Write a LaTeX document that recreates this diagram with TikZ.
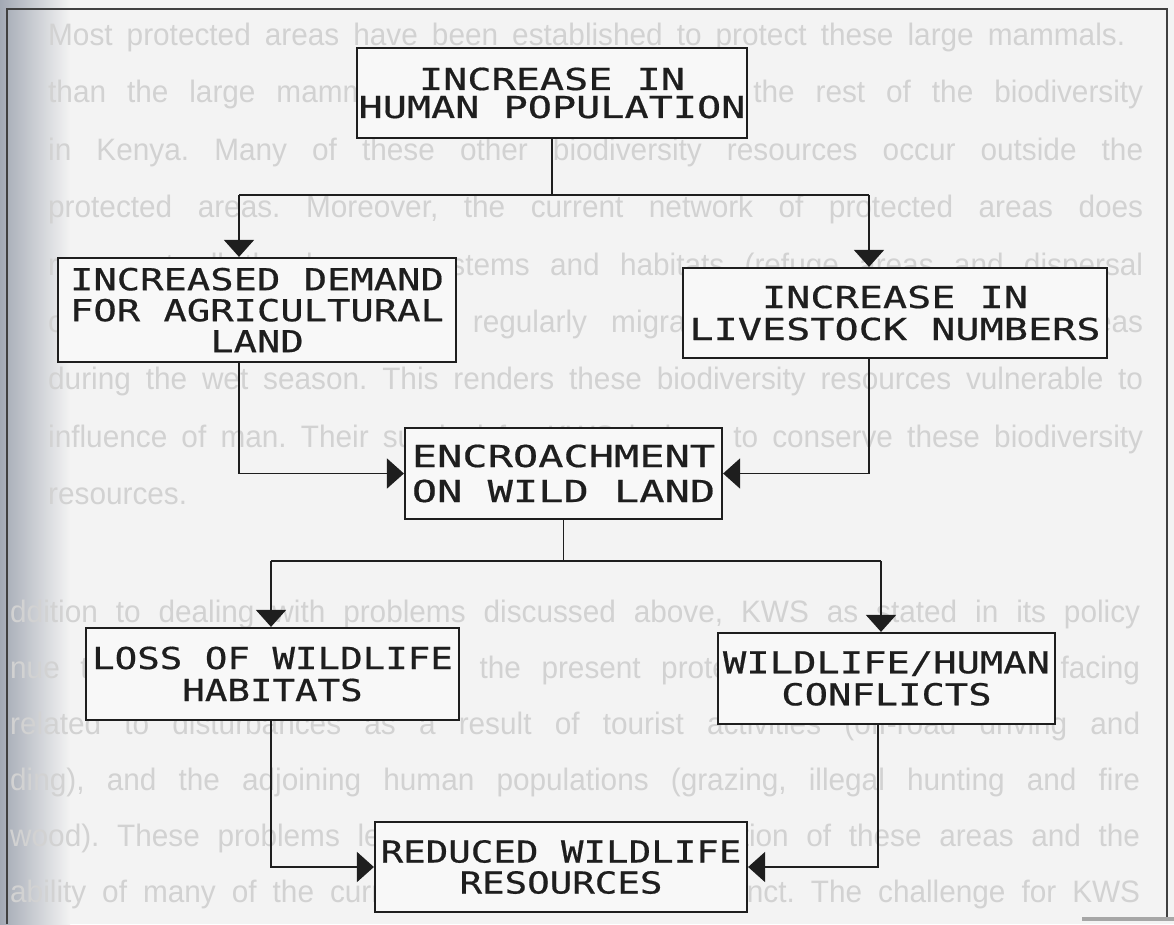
\documentclass[tikz,border=0pt]{standalone}
\usepackage{fontspec}
\usetikzlibrary{arrows.meta,calc}

% plotter-style lettering for the boxes, in a few widths
\newfontfamily\plotwide[FakeStretch=1.33,FakeBold=0.6]{DejaVu Sans Mono}
\newfontfamily\plotxwide[FakeStretch=1.39,FakeBold=0.6]{DejaVu Sans Mono}
\newfontfamily\plotmid[FakeStretch=1.285,FakeBold=0.6]{DejaVu Sans Mono}
\newfontfamily\plotnarrow[FakeStretch=1.24,FakeBold=0.6]{DejaVu Sans Mono}
% faint page text behind the chart
\newfontfamily\bodyfont[FakeStretch=0.96]{Liberation Sans}

\definecolor{paper}{HTML}{F3F3F3}
\definecolor{boxfill}{HTML}{F8F8F8}
\definecolor{ghost}{HTML}{D2D2D2}
\definecolor{ink}{HTML}{1E1E1E}
\definecolor{edge}{HTML}{A3A9B4}

\tikzset{
  flowbox/.style={draw=ink, line width=2.2pt, fill=boxfill, inner sep=0pt,
    align=center, text=ink},
  conn/.style={draw=ink, line width=1.8pt},
  arr/.style={-{Triangle[width=30pt,length=17pt]}},
  ghosttext/.style={anchor=base west, inner sep=0pt, text=ghost,
    font=\bodyfont\fontsize{31}{31}\selectfont},
  frame/.style={draw=ink!85, line width=2.4pt},
}

\newcommand\parline[1]{\makebox[1095pt][s]{#1}}
\newcommand\parlinewide[1]{\makebox[1130pt][s]{#1}}

\frenchspacing
\begin{document}
\begin{tikzpicture}[x=1pt,y=-1pt]
  \useasboundingbox (0,0) rectangle (1174,924);
  \fill[paper] (0,0) rectangle (1174,924);
  \shade[left color=edge, right color=paper] (0,0) rectangle (70,924);

  % page text showing through
  \node[ghosttext] (g1) at (48,45)  {\makebox[1077pt][s]{Most protected areas have been established to protect these large mammals.}};
  \node[ghosttext] (g2) at (48,102) {\parline{than the large mammals, little is known about the rest of the biodiversity}};
  \node[ghosttext] (g3) at (48,160) {\parline{in Kenya. Many of these other biodiversity resources occur outside the}};
  \node[ghosttext] (g4) at (48,217) {\parline{protected areas. Moreover, the current network of protected areas does}};
  \node[ghosttext] (g5) at (48,275) {\parline{represent all the key ecosystems and habitats (refuge areas and dispersal}};
  \node[ghosttext] (g6) at (48,332) {\parline{of all fauna in Kenya are regularly migrate outside the protected areas}};
  \node[ghosttext] (g7) at (48,389) {\parline{during the wet season. This renders these biodiversity resources vulnerable to}};
  \node[ghosttext] (g8) at (48,447) {\parline{influence of man. Their survival for KWS is how to conserve these biodiversity}};
  \node[ghosttext] (g9) at (48,504) {resources.};
  \node[ghosttext] (g10) at (10,622) {\parlinewide{ddition to dealing with problems discussed above, KWS as stated in its policy}};
  \node[ghosttext] (g11) at (10,678) {\parlinewide{nue to conserve biodiversity in the present protected areas which are facing}};
  \node[ghosttext] (g12) at (10,734) {\parlinewide{related to disturbances as a result of tourist activities (off-road driving and}};
  \node[ghosttext] (g13) at (10,790) {\parlinewide{ding), and the adjoining human populations (grazing, illegal hunting and fire}};
  \node[ghosttext] (g14) at (10,846) {\parlinewide{wood). These problems lead to the increased isolation of these areas and the}};
  \node[ghosttext] (g15) at (10,902) {\parlinewide{ability of many of the current species becoming extinct. The challenge for KWS}};

  % outer frame
  \draw[frame] (7,924) -- (7,9) -- (1167,9) -- (1167,918);
  \draw[gray!70, line width=4pt] (1082,919) -- (1174,919);

  % boxes
  \node[flowbox, minimum width=390pt, minimum height=90pt,
        font=\plotwide\fontsize{30.2}{28}\selectfont] (pop) at (552,93)
        {INCREASE IN\\HUMAN POPULATION};
  \node[flowbox, minimum width=398pt, minimum height=104pt,
        font=\plotmid\fontsize{30.2}{31}\selectfont] (agri) at (257,310)
        {INCREASED DEMAND\\FOR AGRICULTURAL\\LAND};
  \node[flowbox, minimum width=424pt, minimum height=90pt,
        font=\plotwide\fontsize{30.2}{32}\selectfont] (stock) at (895,313)
        {INCREASE IN\\LIVESTOCK NUMBERS};
  \node[flowbox, minimum width=317pt, minimum height=91pt,
        font=\plotxwide\fontsize{30.2}{35}\selectfont] (wild) at (563.5,473.5)
        {ENCROACHMENT\\ON WILD LAND};
  \node[flowbox, minimum width=373pt, minimum height=92pt,
        font=\plotnarrow\fontsize{30.2}{32}\selectfont] (habitat) at (272.5,674)
        {LOSS OF WILDLIFE\\HABITATS};
  \node[flowbox, minimum width=337pt, minimum height=91pt,
        font=\plotmid\fontsize{30.2}{32}\selectfont] (conflict) at (886.5,678.5)
        {WILDLIFE/HUMAN\\CONFLICTS};
  \node[flowbox, minimum width=372pt, minimum height=90pt,
        font=\plotnarrow\fontsize{30.2}{31}\selectfont] (res) at (561,867)
        {REDUCED WILDLIFE\\RESOURCES};

  % branch points
  \coordinate (s1L) at (239,195);
  \coordinate (s1R) at (869,195);
  \coordinate (s2L) at (271,561);
  \coordinate (s2R) at (881,561);

  % connectors
  \draw[conn] (pop.south) |- (s1L);
  \draw[conn] (pop.south) |- (s1R);
  \draw[conn,arr] (s1L) -- (s1L |- agri.north);
  \draw[conn,arr] (s1R) -- (s1R |- stock.north);
  \draw[conn,arr] (s1L |- agri.south) |- (wild.west);
  \draw[conn,arr] (s1R |- stock.south) |- (wild.east);

  \draw[conn] (wild.south) |- (s2L);
  \draw[conn] (wild.south) |- (s2R);
  \draw[conn,arr] (s2L) -- (s2L |- habitat.north);
  \draw[conn,arr] (s2R) -- (s2R |- conflict.north);
  \draw[conn,arr] (s2L |- habitat.south) |- (res.west);
  \draw[conn,arr] ($(s2R |- conflict.south)+(-3,0)$) |- (res.east);
\end{tikzpicture}
\end{document}
